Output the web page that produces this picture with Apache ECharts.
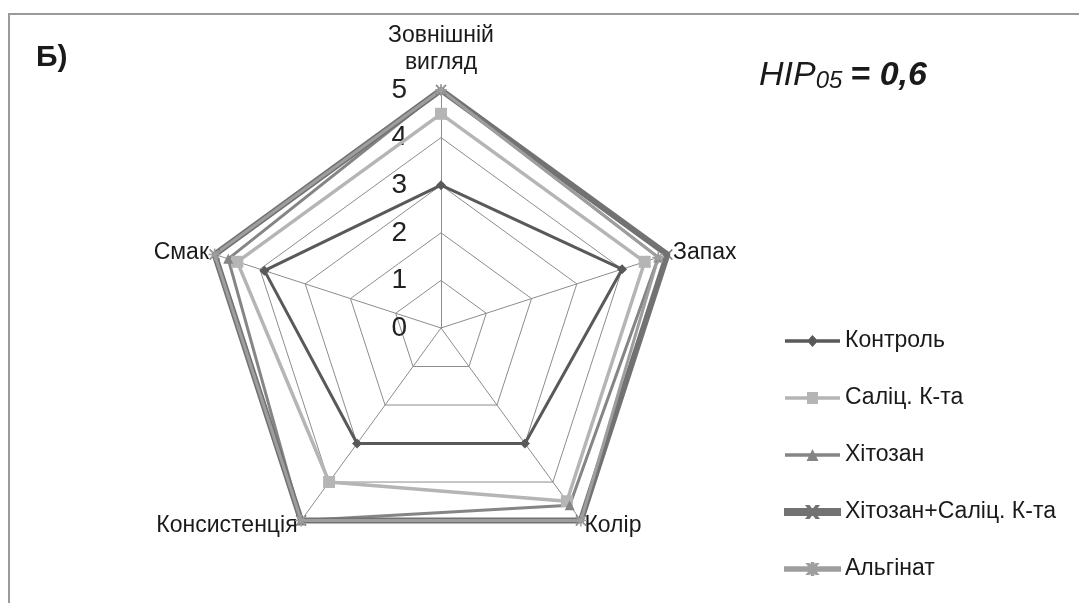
<!DOCTYPE html>
<html>
<head>
<meta charset="utf-8">
<script src="https://cdn.jsdelivr.net/npm/echarts@6/dist/echarts.min.js"></script>
<style>
  html, body { margin: 0; padding: 0; background: #fff; }
  #chart { width: 1079px; height: 603px; }
</style>
</head>
<body>
<div id="chart"></div>
<script>
// indicators, counter-clockwise from the top (ECharts order)
const indicators = ['Зовнішній\nвигляд', 'Смак', 'Консистенція', 'Колір', 'Запах']
const seriesNames = ['Контроль', 'Саліц. К-та', 'Хітозан', 'Хітозан+Саліц. К-та', 'Альгінат']
const kontrol = [3, 3.9, 3, 3, 4]
const salic = [4.5, 4.5, 4.0, 4.5, 4.5]
const hitozan = [5, 4.7, 5, 4.6, 4.8]
const hitSalic = [5, 5, 5, 5, 5]
const alginat = [5, 5, 5, 5, 4.8]
const ticks = [0, 1, 2, 3, 4, 5]

const font = 'Liberation Sans, Arial, sans-serif'
const asterisk = 'path://M0,5L10,5M5,0L5,10M1.5,1.5L8.5,8.5M8.5,1.5L1.5,8.5'
const cross = 'path://M0,0L10,10M10,0L0,10'

// legend icons: line with the marker in the middle (box 55 x 12)
const legendIcons = [
  'path://M0,4.3L55,4.3L55,7.7L0,7.7Z M27.5,0L33,6L27.5,12L22,6Z',
  'path://M0,4.3L55,4.3L55,7.7L0,7.7Z M22,0L33,0L33,12L22,12Z',
  'path://M0,4.3L55,4.3L55,7.7L0,7.7Z M27.5,0L33.5,12L21.5,12Z',
  'path://M0,3L55,3L55,9L0,9Z M22,0L24,0L33,12L31,12Z M24,12L22,12L31,0L33,0Z',
  'path://M0,4.3L55,4.3L55,7.7L0,7.7Z M26.7,0L28.3,0L28.3,12L26.7,12Z M22.5,1L24,1L32.5,11L31,11Z M24,11L22.5,11L31,1L32.5,1Z'
]

const chart = echarts.init(document.getElementById('chart'))

function line (name, data, color, width, symbol, size, stroke) {
  return {
    name: name,
    value: data,
    symbol: symbol,
    symbolSize: size,
    lineStyle: { color: color, width: width },
    itemStyle: stroke
      ? { color: color, borderColor: color, borderWidth: 1.5 }
      : { color: color }
  }
}

chart.setOption({
  animation: false,
  textStyle: { fontFamily: font },
  graphic: [
    {
      type: 'rect',
      shape: { x: 9, y: 14, width: 1100, height: 620 },
      style: { fill: 'none', stroke: '#9a9a9a', lineWidth: 2 }
    },
    {
      type: 'text',
      left: 36,
      top: 43,
      style: { text: 'Б)', font: 'bold 30px ' + font, fill: '#1a1a1a' }
    },
    {
      type: 'text',
      left: 759,
      top: 54,
      style: {
        text: '{a|HIP}{b|05}{c|= 0,6}',
        rich: {
          a: { fontSize: 34, fontStyle: 'italic', fontFamily: font, fill: '#1a1a1a', verticalAlign: 'bottom', lineHeight: 40 },
          b: { fontSize: 24, fontStyle: 'italic', fontFamily: font, fill: '#1a1a1a', padding: [15, 8, 0, 0], verticalAlign: 'bottom', lineHeight: 40 },
          c: { fontSize: 34, fontStyle: 'italic', fontWeight: 'bold', fontFamily: font, fill: '#1a1a1a', verticalAlign: 'bottom', lineHeight: 40 }
        }
      }
    }
  ],
  legend: {
    orient: 'vertical',
    left: 779,
    top: 324,
    itemWidth: 55,
    itemHeight: 12,
    itemGap: 33,
    textStyle: { fontSize: 23, lineHeight: 24, color: '#1a1a1a', fontFamily: font },
    data: seriesNames.map((n, i) => ({ name: n, icon: legendIcons[i] }))
  },
  radar: {
    center: [441, 328],
    radius: 238,
    startAngle: 90,
    splitNumber: 5,
    shape: 'polygon',
    indicator: indicators.map((n, i) => ({
      name: n,
      min: ticks[0],
      max: ticks[ticks.length - 1],
      axisLabel: i === 0
        ? { show: true, fontSize: 28, color: '#222', margin: 34, fontFamily: font, formatter: v => ticks.includes(v) ? String(v) : '' }
        : { show: false }
    })),
    axisName: { color: '#1a1a1a', fontSize: 23, fontFamily: font, lineHeight: 27 },
    nameGap: 6,
    axisLine: { lineStyle: { color: '#8c8c8c', width: 1 } },
    axisTick: { show: false },
    splitLine: { lineStyle: { color: '#8c8c8c', width: 1 } },
    splitArea: { show: false }
  },
  series: [
    {
      type: 'radar',
      data: [
        line(seriesNames[0], kontrol, '#595959', 3, 'diamond', 10, false),
        line(seriesNames[1], salic, '#b5b5b5', 3.5, 'rect', 12, false),
        line(seriesNames[2], hitozan, '#858585', 3, 'triangle', 10, false),
        line(seriesNames[3], hitSalic, '#727272', 6, cross, 10, true),
        line(seriesNames[4], alginat, '#9e9e9e', 3, asterisk, 12, true)
      ]
    }
  ]
})
</script>
</body>
</html>
